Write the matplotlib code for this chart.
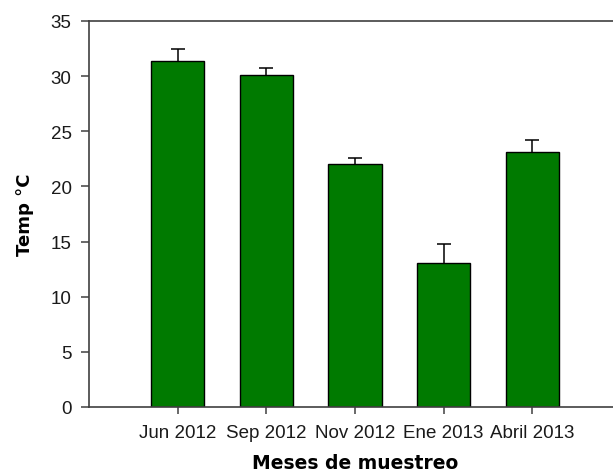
import numpy as np
import matplotlib.pyplot as plt

# mean temperature per sampling month, with upper error bars
months = ["Jun 2012", "Sep 2012", "Nov 2012", "Ene 2013", "Abril 2013"]
temp_mean = [31.4, 30.1, 22.0, 13.1, 23.1]
temp_err = [1.1, 0.6, 0.6, 1.7, 1.1]

spine_color = "#404040"

fig = plt.figure(figsize=(6.13, 4.77), dpi=100)
# axes runs a little past the right edge of the figure
ax = fig.add_axes([89 / 613, 69 / 477, 532 / 613, 386 / 477])

x = np.arange(len(months))
ax.bar(x, temp_mean, width=0.6, color="#007a00", edgecolor="black",
       linewidth=1.0, zorder=2)
_, caps, _ = ax.errorbar(x, temp_mean,
                         yerr=[np.zeros(len(temp_err)), temp_err],
                         fmt="none", ecolor="black", elinewidth=1.1,
                         capsize=4.8, capthick=1.1, zorder=1)
# only the upper cap is wanted
caps[0].set_visible(False)

ax.set_xlim(-1, 5)
ax.set_ylim(0, 35)
ax.set_yticks(range(0, 36, 5))
ax.set_xticks(x)
ax.set_xticklabels(months, fontfamily="Liberation Sans", fontsize=13.5,
                   color="#1a1a1a")
for lbl in ax.get_yticklabels():
    lbl.set_fontfamily("Liberation Sans")
    lbl.set_fontsize(13.5)
    lbl.set_color("#1a1a1a")

ax.tick_params(axis="y", direction="out", length=6, width=1.1,
               color=spine_color, pad=6.5)
ax.tick_params(axis="x", direction="out", length=5, width=1.1,
               color=spine_color, pad=7)

for side in ("left", "bottom", "top", "right"):
    ax.spines[side].set_color(spine_color)
    ax.spines[side].set_linewidth(1.2)

ax.set_xlabel("Meses de muestreo", fontfamily="DejaVu Sans",
              fontweight="bold", fontsize=13.5, labelpad=9)
ax.set_ylabel("Temp °C", fontfamily="DejaVu Sans", fontweight="bold",
              fontsize=13, labelpad=12)

fig.savefig("out.png", dpi=100)
